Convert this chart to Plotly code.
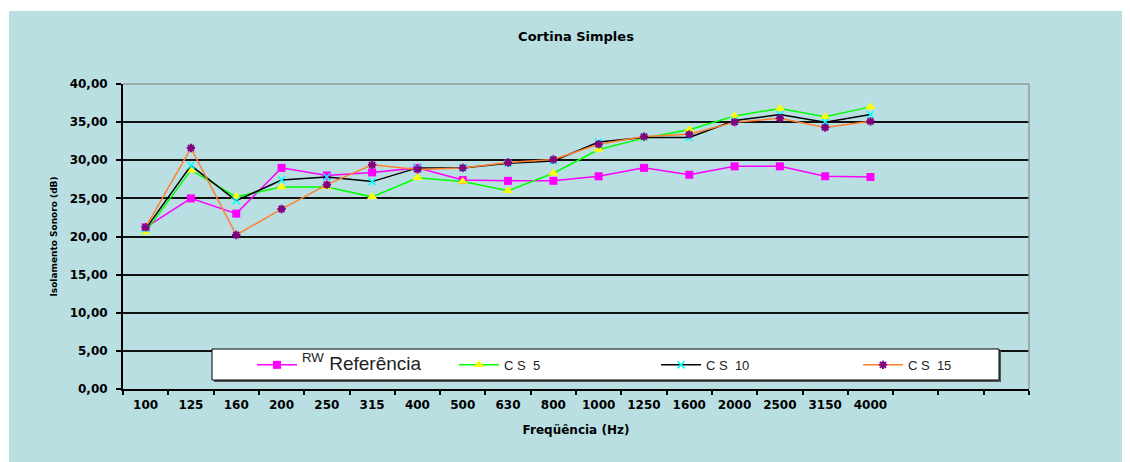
import plotly.graph_objects as go

freqs = ["100", "125", "160", "200", "250", "315", "400", "500", "630", "800",
         "1000", "1250", "1600", "2000", "2500", "3150", "4000"]
pad_cats = [" ", "  ", "   "]

ref = [21.2, 25.0, 23.0, 29.0, 28.0, 28.4, 29.0, 27.4, 27.3, 27.3,
       27.9, 29.0, 28.1, 29.2, 29.2, 27.9, 27.8]
cs5 = [20.6, 28.7, 25.2, 26.5, 26.5, 25.2, 27.7, 27.2, 26.0, 28.3,
       31.4, 32.9, 34.0, 35.8, 36.8, 35.7, 37.0]
cs10 = [21.0, 29.3, 24.7, 27.4, 27.8, 27.2, 29.0, 29.0, 29.6, 29.9,
        32.4, 33.0, 33.0, 35.2, 36.0, 35.0, 36.0]
cs15 = [21.2, 31.6, 20.2, 23.6, 26.8, 29.4, 28.8, 29.0, 29.7, 30.1,
        32.1, 33.1, 33.4, 35.0, 35.5, 34.3, 35.1]

ytickvals = [0, 5, 10, 15, 20, 25, 30, 35, 40]
yticktext = ["0,00", "5,00", "10,00", "15,00", "20,00", "25,00", "30,00", "35,00", "40,00"]

BG = "#b9dfe3"

# figure pixel geometry (page has an 8px body margin)
W, H = 1122, 454
PL, PR, PT, PB = 115, 1021, 76, 381


def px(fx):
    return (fx - PL) / (PR - PL)


def py(fy):
    return (PB - fy) / (PB - PT)


fig = go.Figure()
fig.add_trace(go.Scatter(
    x=freqs, y=ref, mode="lines+markers",
    name="<span style='font-size:19px'><sup>RW</sup> Referência</span>",
    line=dict(color="#ff00ff", width=1.5),
    marker=dict(symbol="square", size=8, color="#ff00ff")))
fig.add_trace(go.Scatter(
    x=freqs, y=cs5, mode="lines+markers", name="C S  5",
    line=dict(color="#00ff00", width=1.5),
    marker=dict(symbol="triangle-up", size=9, color="#ffff00")))
fig.add_trace(go.Scatter(
    x=freqs, y=cs10, mode="lines+markers", name="C S  10",
    line=dict(color="#000000", width=1.5),
    marker=dict(symbol="x-thin-open", size=7, color="#00ffff",
                line=dict(color="#00ffff", width=1.5))))
fig.add_trace(go.Scatter(
    x=freqs, y=cs15, mode="lines+markers", name="C S  15",
    line=dict(color="#ff8030", width=1.5),
    marker=dict(symbol="asterisk-open", size=7, color="#800080",
                line=dict(color="#800080", width=2))))

tickfont = dict(family="DejaVu Sans", size=12, color="black", weight=700)

fig.update_layout(
    width=W, height=H,
    margin=dict(l=PL, r=W - PR, t=PT, b=H - PB),
    paper_bgcolor="white",
    plot_bgcolor=BG,
    title=dict(text="Cortina Simples", x=0.5, xref="paper", xanchor="center",
               y=1 - 28 / H, yanchor="middle",
               font=dict(family="DejaVu Sans", size=13, color="black", weight=700)),
    showlegend=True,
    legend=dict(orientation="h", x=px(244), xanchor="left", y=0.079, yanchor="middle",
                bgcolor="rgba(0,0,0,0)", borderwidth=0,
                entrywidth=147, entrywidthmode="pixels",
                font=dict(family="Liberation Sans", size=13, color="#222"),
                itemwidth=40, traceorder="normal"),
    xaxis=dict(type="category", categoryorder="array", categoryarray=freqs + pad_cats,
               range=[-0.5, len(freqs) + len(pad_cats) - 0.5],
               tickson="boundaries", ticks="outside", ticklen=4, tickwidth=1.5, tickcolor="black",
               showline=True, linecolor="black", linewidth=2,
               showgrid=False, tickfont=tickfont, ticklabelstandoff=4,
               title=dict(text="Freqüência (Hz)", standoff=14,
                          font=dict(family="DejaVu Sans", size=12, color="black", weight=700))),
    yaxis=dict(range=[0, 40], tickvals=ytickvals, ticktext=yticktext,
               ticks="outside", ticklen=5, tickwidth=1.5, tickcolor="black",
               showline=True, linecolor="black", linewidth=2,
               showgrid=True, gridcolor="#111111", gridwidth=1.8, zeroline=False,
               tickfont=tickfont, ticklabelstandoff=6,
               title=dict(text="Isolamento Sonoro (dB)", standoff=10,
                          font=dict(family="DejaVu Sans", size=9, color="black", weight=700))),
    shapes=[
        # chart background
        dict(type="rect", xref="paper", yref="paper", layer="below",
             x0=px(1), x1=px(W + 10), y0=py(H + 10), y1=py(3),
             fillcolor=BG, line=dict(width=0)),
        # top and right border of plot area
        dict(type="line", xref="paper", yref="paper", x0=0, x1=1, y0=1, y1=1,
             line=dict(color="#999999", width=1.5), layer="above"),
        dict(type="line", xref="paper", yref="paper", x0=1, x1=1, y0=0, y1=1,
             line=dict(color="#999999", width=1.5), layer="above"),
        # legend box shadow + box
        dict(type="rect", xref="paper", yref="paper", layer="above",
             x0=px(206), x1=px(993), y0=py(374), y1=py(343),
             fillcolor="#555555", line=dict(width=0)),
        dict(type="rect", xref="paper", yref="paper", layer="above",
             x0=px(204), x1=px(991), y0=py(372), y1=py(341),
             fillcolor="white", line=dict(color="black", width=1)),
    ],
)

fig.write_html("out.html")
